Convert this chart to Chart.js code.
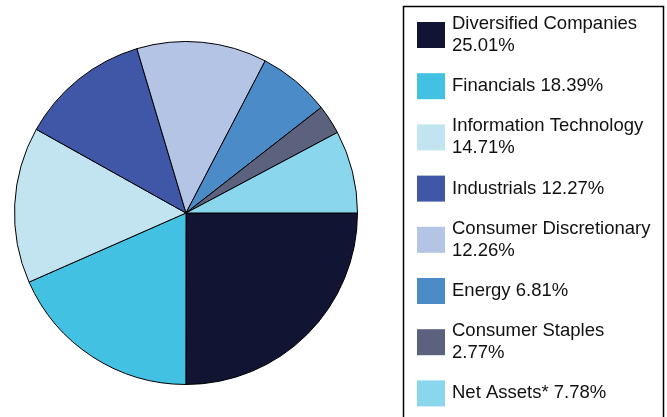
<!DOCTYPE html>
<html>
<head>
<meta charset="utf-8">
<script src="https://cdn.jsdelivr.net/npm/chart.js@4.4.0/dist/chart.umd.min.js"></script>
<style>
  html, body { margin: 0; padding: 0; background: #fff; }
  #wrap { width: 667px; height: 417px; }
</style>
</head>
<body>
<div id="wrap"><canvas id="pie" width="667" height="417"></canvas></div>
<script>
// sectors, as percentages
var sectors = ['Diversified Companies', 'Financials', 'Information Technology', 'Industrials',
  'Consumer Discretionary', 'Energy', 'Consumer Staples', 'Net Assets*'];
var weights = [25.01, 18.39, 14.71, 12.27, 12.26, 6.81, 2.77, 7.78];
var colors = ['#111432', '#42c1e3', '#c2e4f0', '#3f57a6', '#b4c4e5', '#4a8bc8', '#5c627e', '#8ad6ed'];
// legend text lines (long names wrap onto a second line)
var legendLines = [
  ['Diversified Companies', '25.01%'],
  ['Financials 18.39%'],
  ['Information Technology', '14.71%'],
  ['Industrials 12.27%'],
  ['Consumer Discretionary', '12.26%'],
  ['Energy 6.81%'],
  ['Consumer Staples', '2.77%'],
  ['Net Assets* 7.78%']
];

// legend box drawn onto the canvas
var boxLegend = {
  id: 'boxLegend',
  afterDraw: function(chart) {
    var ctx = chart.ctx;
    ctx.save();
    ctx.strokeStyle = '#000';
    ctx.lineWidth = 1.5;
    ctx.strokeRect(403.5, 6.5, 260, 420);
    ctx.font = '18.5px "Liberation Sans", Arial, sans-serif';
    ctx.textBaseline = 'middle';
    for (var i = 0; i < legendLines.length; i++) {
      var cy = 35 + i * 51.2;
      ctx.fillStyle = colors[i];
      ctx.fillRect(417, cy - 13, 28, 26);
      ctx.fillStyle = '#111';
      var lines = legendLines[i];
      if (lines.length === 1) {
        ctx.fillText(lines[0], 452, cy);
      } else {
        ctx.fillText(lines[0], 452, cy - 11);
        ctx.fillText(lines[1], 452, cy + 11);
      }
    }
    ctx.restore();
  }
};

new Chart(document.getElementById('pie'), {
  type: 'pie',
  data: {
    labels: sectors,
    datasets: [{
      data: weights,
      backgroundColor: colors,
      borderColor: '#000',
      borderWidth: 1
    }]
  },
  options: {
    responsive: false,
    animation: false,
    rotation: 90,
    layout: { padding: { left: 14, right: 309, top: 41, bottom: 32 } },
    plugins: {
      legend: { display: false },
      tooltip: { enabled: false }
    }
  },
  plugins: [boxLegend]
});
</script>
</body>
</html>
